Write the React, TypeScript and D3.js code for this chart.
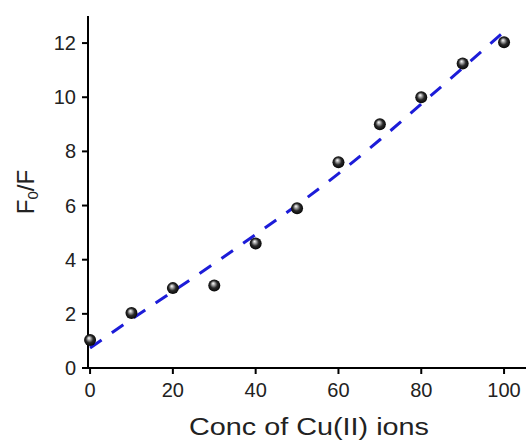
import React from "react";
import * as d3 from "d3";

// Quenching data: F0/F versus Cu(II) concentration
const concentrations = [0, 10, 20, 30, 40, 50, 60, 70, 80, 90, 100];
const ratios = [1.03, 2.03, 2.95, 3.05, 4.6, 5.9, 7.6, 9.0, 10.0, 11.25, 12.03];

// Fitted curve sampled at the same concentrations
const fitConcentrations = [0, 10, 20, 30, 40, 50, 60, 70, 80, 90, 100];
const fitRatios = [0.74, 1.8, 2.83, 3.86, 4.93, 6.02, 7.18, 8.43, 9.75, 11.08, 12.42];

const xTicks = [0, 20, 40, 60, 80, 100];
const yTicks = [0, 2, 4, 6, 8, 10, 12];

const W = 526;
const H = 445;
const FONT = "'Liberation Sans', Arial, Helvetica, sans-serif";

export default function App() {
  const x = d3.scaleLinear().domain([-0.5, 105.3]).range([88, 526]);
  const y = d3.scaleLinear().domain([0, 13]).range([368, 16]);

  const fitLine = d3
    .line<number>()
    .x((_, i) => x(fitConcentrations[i]))
    .y((d) => y(d))
    .curve(d3.curveMonotoneX);

  const x0 = x.range()[0];
  const y0 = y.range()[0];

  return (
    <svg
      width={W}
      height={H}
      style={{ position: "absolute", left: 0, top: 0, background: "#fff" }}
      fontFamily={FONT}
    >
      <defs>
        <radialGradient id="ball" cx="0.5" cy="0.5" r="0.55" fx="0.4" fy="0.32">
          <stop offset="0" stopColor="#ffffff" />
          <stop offset="0.22" stopColor="#b0b0b0" />
          <stop offset="0.55" stopColor="#2a2a2a" />
          <stop offset="1" stopColor="#000000" />
        </radialGradient>
      </defs>

      {/* fitted curve */}
      <path
        d={fitLine(fitRatios) ?? ""}
        fill="none"
        stroke="#1c1cd8"
        strokeWidth={3}
        strokeDasharray="14 12.5"
      />

      {/* axes */}
      <line x1={x0} x2={x0} y1={y.range()[1]} y2={y0 + 1} stroke="#000" strokeWidth={2} />
      <line x1={x0 - 1} x2={x.range()[1]} y1={y0} y2={y0} stroke="#000" strokeWidth={2} />

      {yTicks.map((t) => (
        <g key={`y${t}`}>
          <line x1={x0 - 6} x2={x0} y1={y(t)} y2={y(t)} stroke="#000" strokeWidth={2} />
          <text
            x={x0 - 12}
            y={y(t)}
            textAnchor="end"
            dominantBaseline="central"
            fontSize={20}
            fill="#222"
          >
            {t}
          </text>
        </g>
      ))}

      {xTicks.map((t) => (
        <g key={`x${t}`}>
          <line x1={x(t)} x2={x(t)} y1={y0} y2={y0 + 6} stroke="#000" strokeWidth={2} />
          <text x={x(t)} y={y0 + 29} textAnchor="middle" fontSize={20} fill="#222">
            {t}
          </text>
        </g>
      ))}

      {/* data points */}
      {ratios.map((v, i) => (
        <circle
          key={`p${i}`}
          cx={x(concentrations[i])}
          cy={y(v)}
          r={6}
          fill="url(#ball)"
        />
      ))}

      {/* axis titles */}
      <text
        transform="translate(309,435) scale(1.2,1)"
        textAnchor="middle"
        fontSize={24}
        fill="#222"
      >
        Conc of Cu(II) ions
      </text>
      <text
        transform="translate(34,192) rotate(-90)"
        textAnchor="middle"
        fontSize={24}
        fill="#222"
      >
        F
        <tspan fontSize={15} dy={4}>
          0
        </tspan>
        <tspan dy={-4}>/F</tspan>
      </text>
    </svg>
  );
}
